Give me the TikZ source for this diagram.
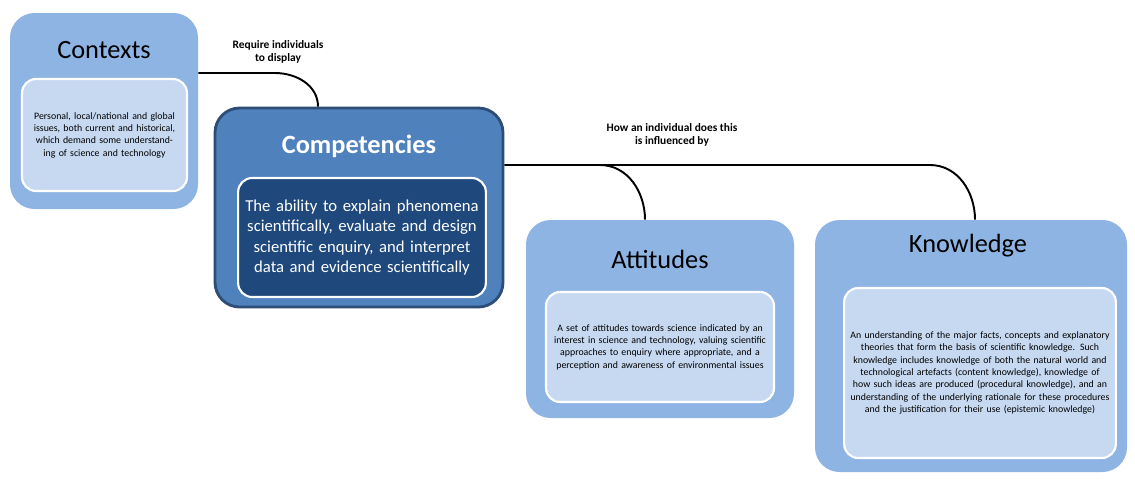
\documentclass[tikz,border=0pt]{standalone}
\usepackage{fontspec}
\setmainfont{Carlito}
\usetikzlibrary{positioning}
\definecolor{outerblue}{HTML}{8EB4E3}
\definecolor{innerblue}{HTML}{C6D9F1}
\definecolor{compblue}{HTML}{4F81BD}
\definecolor{compedge}{HTML}{2C4D75}
\definecolor{navy}{HTML}{1F497D}
\tikzset{
  outer/.style={rounded corners=14, fill=outerblue, draw=none, inner sep=0},
  inner/.style={rounded corners=8, fill=innerblue, draw=white, line width=1.2pt, align=center, font=\fontsize{5.6}{7}\selectfont},
  title/.style={font=\fontsize{15}{16}\selectfont},
  link/.style={line width=1.1pt, black},
  lbl/.style={font=\bfseries\fontsize{6.5}{7.5}\selectfont, align=center}
}
\begin{document}
\begin{tikzpicture}[x=0.02cm, y=-0.02cm]
\useasboundingbox (0,0) rectangle (1135,485);
% Contexts
\node[outer, minimum width=188*0.02cm, minimum height=196*0.02cm] (ctx) at (104,111) {};
\node[title] (ctxt) at (104,50) {Contexts};
\node[inner, minimum width=165*0.02cm, minimum height=112*0.02cm, text width=150*0.02cm] (ctxi) at (104.5,135) {Personal, local/national and global issues, both current and historical, which demand some understanding of science and technology};
% Competencies
\node[outer, fill=compblue, draw=compedge, line width=1.6pt, minimum width=288*0.02cm, minimum height=199*0.02cm] (comp) at (359,207.5) {};
\node[title, font=\bfseries\fontsize{15}{16}\selectfont, text=white] (compt) at (359,146) {Competencies};
\node[inner, fill=navy, text=white, font=\fontsize{9.5}{11.5}\selectfont, minimum width=244*0.02cm, minimum height=119*0.02cm, text width=236*0.02cm] (compi) at (362,237.5) {The ability to explain phenomena scientifically, evaluate and design scientific enquiry, and interpret data and evidence scientifically};
% Attitudes
\node[outer, minimum width=268*0.02cm, minimum height=198*0.02cm] (att) at (660,319) {};
\node[title] (attt) at (660,259) {Attitudes};
\node[inner, minimum width=228*0.02cm, minimum height=110*0.02cm, text width=215*0.02cm] (atti) at (660,347) {A set of attitudes towards science indicated by an interest in science and technology, valuing scientific approaches to enquiry where appropriate, and a perception and awareness of environmental issues};
% Knowledge
\node[outer, minimum width=312*0.02cm, minimum height=252*0.02cm] (kno) at (971,346) {};
\node[title] (knot) at (968,246) {Knowledge};
\node[inner, minimum width=270*0.02cm, minimum height=170*0.02cm, text width=260*0.02cm] (knoi) at (980,373) {An understanding of the major facts, concepts and explanatory theories that form the basis of scientific knowledge. Such knowledge includes knowledge of both the natural world and technological artefacts (content knowledge), knowledge of how such ideas are produced (procedural knowledge), and an understanding of the underlying rationale for these procedures and the justification for their use (epistemic knowledge)};
% connectors
\coordinate (j1) at (600,165);
\coordinate (j2) at (930,165);
\draw[link] (ctx.east |- 0,73) -- (275,73) to[out=0,in=90] (comp.north -| 318,0);
\draw[link] (comp.east |- 0,165) -- (j1) to[out=0,in=90] (att.north -| 645,0);
\draw[link] (j1) -- (j2) to[out=0,in=90] (kno.north -| 975,0);
\node[lbl] (l1) at (278,52) {Require individuals\\to display};
\node[lbl] (l2) at (672,135) {How an individual does this\\is influenced by};
\end{tikzpicture}
\end{document}
